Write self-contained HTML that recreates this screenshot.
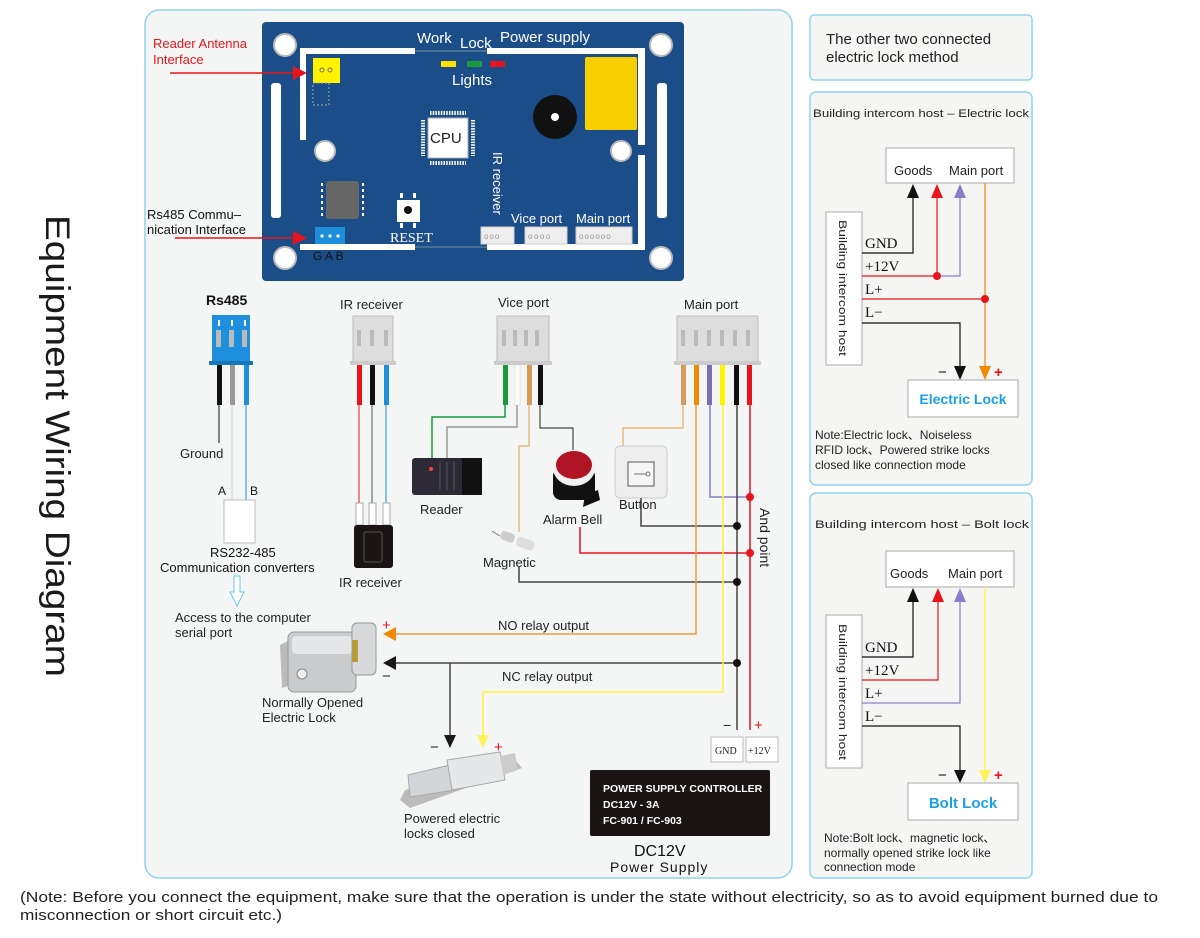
<!DOCTYPE html>
<html><head><meta charset="utf-8"><style>
html,body{margin:0;padding:0;background:#fff}
svg{display:block}
text{font-family:"Liberation Sans",sans-serif}
text.s{font-family:"Liberation Serif",serif}
</style></head><body>
<svg width="1200" height="938" viewBox="0 0 1200 938" xmlns="http://www.w3.org/2000/svg">
<rect width="1200" height="938" fill="#fff"/>
<!-- main panel -->
<rect x="145" y="10" width="647" height="868" rx="14" fill="#f4f6f6" stroke="#8fd3ee" stroke-width="1.5"/>
<rect x="810" y="15" width="222" height="65" rx="4" fill="#f5f6f4" stroke="#8fd3ee" stroke-width="1.5"/>
<rect x="810" y="92" width="222" height="393" rx="6" fill="#f5f6f4" stroke="#8fd3ee" stroke-width="1.5"/>
<rect x="810" y="493" width="222" height="385" rx="6" fill="#f5f6f4" stroke="#8fd3ee" stroke-width="1.5"/>

<text x="0" y="0" font-size="34" fill="#1a1a1a" transform="translate(46,215) rotate(90)" textLength="462" lengthAdjust="spacingAndGlyphs">Equipment Wiring Diagram</text>

<!-- board -->
<rect x="262" y="22" width="422" height="259" rx="4" fill="#1b4e89"/>
<g fill="#fff">
<rect x="300" y="48" width="115" height="6"/><rect x="487" y="48" width="158" height="6"/>
<rect x="300" y="48" width="6" height="92"/><rect x="638" y="48" width="7" height="97"/>
<rect x="638" y="155" width="7" height="95"/>
<rect x="300" y="244" width="115" height="6"/><rect x="487" y="244" width="158" height="6"/>
<rect x="271" y="83" width="10" height="135" rx="3"/><rect x="657" y="83" width="10" height="135" rx="3"/>
</g>
<line x1="415" y1="51" x2="487" y2="51" stroke="#8aa" stroke-width="0.7"/>
<line x1="415" y1="247" x2="487" y2="247" stroke="#8aa" stroke-width="0.7"/>
<g fill="#fff" stroke="#bbb" stroke-width="2">
<circle cx="285" cy="45" r="11"/><circle cx="661" cy="45" r="11"/><circle cx="285" cy="258" r="11"/><circle cx="661" cy="258" r="11"/>
<circle cx="325" cy="151" r="10"/><circle cx="621" cy="151" r="10"/>
</g>
<g fill="#fff" font-size="15">
<text x="417" y="43">Work</text><text x="460" y="48">Lock</text><text x="500" y="42">Power supply</text>
<text x="452" y="85">Lights</text>
</g>
<rect x="441" y="61" width="15" height="6" fill="#ffe400"/><rect x="467" y="61" width="15" height="6" fill="#1a9a3a"/><rect x="490" y="61" width="15" height="6" fill="#e8141b"/>
<rect x="313" y="58" width="27" height="25" fill="#fff200"/>
<circle cx="322" cy="70" r="2" fill="none" stroke="#777"/><circle cx="330" cy="70" r="2" fill="none" stroke="#777"/>
<rect x="313" y="83" width="16" height="22" fill="none" stroke="#aaa" stroke-dasharray="2,2"/>
<!-- CPU -->
<rect x="428" y="118" width="40" height="40" fill="#fff" stroke="#aaa"/>
<g stroke="#fff" stroke-width="4" stroke-dasharray="1.5,1.2">
<line x1="430" y1="113" x2="466" y2="113"/><line x1="430" y1="163" x2="466" y2="163"/>
<line x1="423" y1="120" x2="423" y2="156"/><line x1="473" y1="120" x2="473" y2="156"/>
</g>
<text x="430" y="143" font-size="15" fill="#222">CPU</text>
<circle cx="555" cy="117" r="22" fill="#111"/><circle cx="555" cy="117" r="4" fill="#fff"/>
<rect x="585" y="57" width="52" height="73" rx="2" fill="#f7cf00"/>
<rect x="326" y="181" width="33" height="38" rx="3" fill="#666"/>
<g stroke="#fff" stroke-width="2" stroke-dasharray="3,3"><line x1="322" y1="183" x2="322" y2="217"/><line x1="363" y1="183" x2="363" y2="217"/></g>
<rect x="397" y="200" width="23" height="22" fill="#fff"/><circle cx="408" cy="210" r="4" fill="#111"/>
<g fill="#fff"><rect x="400" y="193" width="3" height="5"/><rect x="413" y="193" width="3" height="5"/><rect x="400" y="223" width="3" height="5"/><rect x="413" y="223" width="3" height="5"/></g>
<text x="390" y="242" class="s" font-size="14" fill="#fff">RESET</text>
<text transform="translate(493,152) rotate(90)" font-size="13" fill="#fff">IR receiver</text>
<text x="511" y="223" font-size="13" fill="#fff">Vice port</text><text x="576" y="223" font-size="13" fill="#fff">Main port</text>
<g fill="#eee" stroke="#ccc"><rect x="481" y="227" width="33" height="17"/><rect x="525" y="227" width="42" height="17"/><rect x="576" y="227" width="56" height="17"/></g>
<text x="484" y="239" font-size="8" fill="#999" letter-spacing="1">ooo</text>
<text x="528" y="239" font-size="8" fill="#999" letter-spacing="1.5">oooo</text>
<text x="579" y="239" font-size="8" fill="#999" letter-spacing="1">oooooo</text>
<rect x="315" y="227" width="30" height="17" fill="#1e8fdc"/>
<g fill="#fff"><circle cx="322" cy="236" r="1.6"/><circle cx="330" cy="236" r="1.6"/><circle cx="338" cy="236" r="1.6"/></g>
<text x="313" y="260" font-size="12" fill="#111">G A B</text>

<text x="153" y="48" font-size="13" fill="#e8141b">Reader Antenna</text>
<text x="153" y="64" font-size="13" fill="#e8141b">Interface</text>
<line x1="170" y1="73" x2="295" y2="73" stroke="#e8141b" stroke-width="1.5"/><path d="M293,66 L307,73 L293,80z" fill="#e8141b"/>
<text x="147" y="219" font-size="13" fill="#111">Rs485 Commu–</text>
<text x="147" y="234" font-size="13" fill="#111">nication Interface</text>
<line x1="175" y1="238" x2="295" y2="238" stroke="#e8141b" stroke-width="1.5"/><path d="M293,231 L307,238 L293,245z" fill="#e8141b"/>

<!-- Rs485 -->
<text x="206" y="305" font-size="14" font-weight="bold" fill="#111">Rs485</text>
<rect x="212" y="315" width="38" height="47" fill="#1e8fdc"/><rect x="209" y="361" width="44" height="4" fill="#1577b8"/>
<g fill="#bbb"><rect x="216" y="330" width="5" height="17"/><rect x="229" y="330" width="5" height="17"/><rect x="242" y="330" width="5" height="17"/></g>
<g fill="#fff"><rect x="218" y="320" width="2" height="6"/><rect x="231" y="320" width="2" height="6"/><rect x="244" y="320" width="2" height="6"/></g>
<rect x="217" y="365" width="5" height="40" fill="#111"/><rect x="230" y="365" width="5" height="40" fill="#999"/><rect x="244" y="365" width="5" height="40" fill="#1e8fdc"/>
<line x1="219" y1="405" x2="219" y2="443" stroke="#111"/><line x1="232" y1="405" x2="232" y2="500" stroke="#ccc"/><line x1="246" y1="405" x2="246" y2="500" stroke="#1e8fdc"/>
<text x="180" y="458" font-size="13" fill="#222">Ground</text>
<text x="218" y="495" font-size="12" fill="#111">A</text><text x="250" y="495" font-size="12" fill="#111">B</text>
<rect x="224" y="500" width="31" height="43" fill="#fff" stroke="#bbb"/>
<text x="210" y="557" font-size="13" fill="#111">RS232-485</text>
<text x="160" y="572" font-size="13" fill="#111">Communication converters</text>
<path d="M234,576 L240,576 L240,592 L244,592 L237,606 L230,592 L234,592z" fill="#fff" stroke="#6cc8ee"/>
<text x="175" y="622" font-size="13" fill="#222">Access to the computer</text>
<text x="175" y="637" font-size="13" fill="#222">serial port</text>

<!-- IR -->
<text x="340" y="309" font-size="13" fill="#222">IR receiver</text>
<rect x="353" y="316" width="40" height="46" fill="#ddd" stroke="#bbb"/><rect x="350" y="361" width="46" height="4" fill="#ccc"/>
<g fill="#bbb"><rect x="357" y="330" width="4" height="16"/><rect x="370" y="330" width="4" height="16"/><rect x="384" y="330" width="4" height="16"/></g>
<rect x="357" y="365" width="5" height="40" fill="#e8141b"/><rect x="370" y="365" width="5" height="40" fill="#111"/><rect x="384" y="365" width="5" height="40" fill="#1e8fdc"/>
<line x1="359" y1="405" x2="359" y2="503" stroke="#e8141b"/><line x1="372" y1="405" x2="372" y2="503" stroke="#555"/><line x1="386" y1="405" x2="386" y2="503" stroke="#1e8fdc"/>
<g fill="#fff" stroke="#aaa"><rect x="356" y="503" width="7" height="22"/><rect x="369" y="503" width="7" height="22"/><rect x="383" y="503" width="7" height="22"/></g>
<rect x="354" y="525" width="39" height="43" rx="3" fill="#1a1414"/><rect x="364" y="532" width="18" height="30" rx="2" fill="none" stroke="#555"/>
<text x="339" y="587" font-size="13" fill="#222">IR receiver</text>

<!-- Vice port -->
<text x="498" y="307" font-size="13" fill="#222">Vice port</text>
<rect x="497" y="316" width="52" height="46" fill="#ddd" stroke="#bbb"/><rect x="494" y="361" width="58" height="4" fill="#ccc"/>
<g fill="#bbb"><rect x="502" y="330" width="4" height="16"/><rect x="513" y="330" width="4" height="16"/><rect x="524" y="330" width="4" height="16"/><rect x="535" y="330" width="4" height="16"/></g>
<rect x="503" y="365" width="5" height="40" fill="#1a9a3a"/><rect x="515" y="365" width="5" height="40" fill="#fff" stroke="#ccc" stroke-width="0.5"/><rect x="527" y="365" width="5" height="40" fill="#d39a5c"/><rect x="538" y="365" width="5" height="40" fill="#111"/>
<polyline points="505,405 505,417 432,417 432,458" fill="none" stroke="#1a9a3a" stroke-width="1.5"/>
<polyline points="517,405 517,427 447,427 447,458" fill="none" stroke="#999" stroke-width="1.5"/>
<polyline points="529,405 529,446 519,446 519,532" fill="none" stroke="#e8a865" stroke-width="1.2"/>
<polyline points="540,405 540,428 573,428 573,450" fill="none" stroke="#444" stroke-width="1.2"/>
<rect x="412" y="458" width="70" height="37" rx="3" fill="#2d2a36"/><rect x="462" y="458" width="20" height="37" fill="#111"/>
<circle cx="431" cy="469" r="2" fill="#e44"/>
<g stroke="#555"><line x1="440" y1="462" x2="440" y2="490"/><line x1="447" y1="462" x2="447" y2="490"/><line x1="454" y1="462" x2="454" y2="490"/></g>
<text x="420" y="514" font-size="13" fill="#222">Reader</text>
<rect x="553" y="468" width="42" height="32" rx="8" fill="#111"/>
<ellipse cx="574" cy="468" rx="21" ry="18" fill="#f0f0f0"/><ellipse cx="574" cy="465" rx="18" ry="14" fill="#b11424"/>
<path d="M585,495 L598,490 L600,500 L583,507z" fill="#111"/>
<text x="543" y="524" font-size="13" fill="#222">Alarm Bell</text>
<g transform="rotate(20 515 540)"><rect x="500" y="535" width="14" height="9" rx="3" fill="#ccc"/><rect x="517" y="535" width="18" height="10" rx="3" fill="#ddd"/></g>
<line x1="492" y1="531" x2="500" y2="536" stroke="#777"/>
<text x="483" y="567" font-size="13" fill="#222">Magnetic</text>

<!-- Button -->
<rect x="615" y="446" width="52" height="52" rx="5" fill="#eee" stroke="#ccc"/>
<rect x="628" y="462" width="26" height="24" fill="#f6f6f6" stroke="#555"/>
<line x1="634" y1="474" x2="646" y2="474" stroke="#777"/><circle cx="648" cy="474" r="2" fill="none" stroke="#777"/>
<text x="619" y="509" font-size="13" fill="#222">Button</text>

<!-- Main port -->
<text x="684" y="309" font-size="13" fill="#222">Main port</text>
<rect x="677" y="316" width="81" height="46" fill="#ddd" stroke="#bbb"/><rect x="674" y="361" width="87" height="4" fill="#ccc"/>
<g fill="#bbb"><rect x="681" y="330" width="4" height="16"/><rect x="694" y="330" width="4" height="16"/><rect x="707" y="330" width="4" height="16"/><rect x="720" y="330" width="4" height="16"/><rect x="733" y="330" width="4" height="16"/><rect x="746" y="330" width="4" height="16"/></g>
<rect x="681" y="365" width="5" height="40" fill="#d39a5c"/><rect x="694" y="365" width="5" height="40" fill="#f28a00"/><rect x="707" y="365" width="5" height="40" fill="#7b6cb8"/><rect x="720" y="365" width="5" height="40" fill="#fff200"/><rect x="734" y="365" width="5" height="40" fill="#111"/><rect x="747" y="365" width="5" height="40" fill="#e8141b"/>
<polyline points="683,405 683,428 623,428 623,446" fill="none" stroke="#e8a865" stroke-width="1.2"/>
<polyline points="710,405 710,497 750,497" fill="none" stroke="#8a7cc8" stroke-width="1.5"/>
<polyline points="641,498 641,526 737,526" fill="none" stroke="#444" stroke-width="1.5"/>
<polyline points="580,527 580,553 750,553" fill="none" stroke="#e8141b" stroke-width="1.5"/>
<polyline points="519,567 519,582 737,582" fill="none" stroke="#444" stroke-width="1.5"/>
<line x1="750" y1="405" x2="750" y2="730" stroke="#e8141b" stroke-width="1.5"/>
<line x1="737" y1="405" x2="737" y2="730" stroke="#444" stroke-width="1.5"/>
<polyline points="696,405 696,634 385,634" fill="none" stroke="#f39a3a" stroke-width="1.5"/>
<path d="M383,634 L396,627 L396,641z" fill="#f28a00"/>
<polyline points="737,663 385,663" fill="none" stroke="#444" stroke-width="1.5"/>
<path d="M383,663 L396,656 L396,670z" fill="#1a1a1a"/>
<line x1="450" y1="663" x2="450" y2="738" stroke="#444" stroke-width="1.5"/>
<path d="M444,735 L456,735 L450,748z" fill="#1a1a1a"/>
<polyline points="723,405 723,692 483,692 483,738" fill="none" stroke="#ffef3a" stroke-width="1.5"/>
<path d="M477,735 L489,735 L483,748z" fill="#fff25a"/>
<g fill="#e8141b"><circle cx="750" cy="497" r="4"/><circle cx="750" cy="553" r="4"/></g>
<g fill="#111"><circle cx="737" cy="526" r="4"/><circle cx="737" cy="582" r="4"/><circle cx="737" cy="663" r="4"/></g>
<text transform="translate(760,508) rotate(90)" font-size="14" fill="#222">And point</text>
<text x="498" y="630" font-size="13" fill="#222">NO relay output</text>
<text x="502" y="681" font-size="13" fill="#222">NC relay output</text>
<text x="382" y="630" font-size="15" fill="#e8141b">+</text><text x="382" y="681" font-size="15" fill="#222">−</text>
<text x="430" y="752" font-size="15" fill="#222">−</text><text x="494" y="752" font-size="15" fill="#e8141b">+</text>
<text x="723" y="730" font-size="14" fill="#222">−</text><text x="754" y="730" font-size="15" fill="#e8141b">+</text>
<rect x="711" y="737" width="32" height="25" fill="#fff" stroke="#bbb"/><rect x="746" y="737" width="32" height="25" fill="#fff" stroke="#bbb"/>
<text x="715" y="754" font-size="10" class="s" fill="#222">GND</text>
<text x="748" y="754" font-size="10" class="s" fill="#222">+12V</text>
<rect x="590" y="770" width="180" height="66" rx="2" fill="#1a1414"/>
<g fill="#fff" font-size="10.5" font-weight="bold"><text x="603" y="792">POWER SUPPLY CONTROLLER</text><text x="603" y="808">DC12V - 3A</text><text x="603" y="824">FC-901 / FC-903</text></g>
<text x="634" y="856" font-size="16" fill="#111">DC12V</text>
<text x="610" y="872" font-size="14" fill="#111" letter-spacing="1">Power Supply</text>

<!-- electric lock image -->
<path d="M280,645 L290,640 L290,685 L282,688z" fill="#bbb"/>
<rect x="288" y="632" width="68" height="60" rx="6" fill="#c9cbcd" stroke="#999"/>
<rect x="292" y="636" width="60" height="18" rx="4" fill="#e4e6e8"/>
<circle cx="302" cy="674" r="5" fill="#eee" stroke="#888"/>
<rect x="352" y="623" width="24" height="52" rx="5" fill="#d7d9db" stroke="#999"/>
<rect x="352" y="640" width="6" height="22" fill="#b89a3a"/>
<text x="262" y="707" font-size="13" fill="#222">Normally Opened</text>
<text x="262" y="722" font-size="13" fill="#222">Electric Lock</text>
<!-- bolt lock -->
<path d="M400,800 L405,790 L515,760 L522,768 L410,808z" fill="#bbb"/>
<path d="M408,775 L450,765 L455,790 L410,797z" fill="#d3d5d8" stroke="#aaa"/>
<path d="M447,760 L500,752 L505,780 L452,790z" fill="#e6e7e9" stroke="#aaa"/>
<path d="M500,756 L515,753 L518,770 L503,775z" fill="#ccc"/>
<text x="404" y="823" font-size="13" fill="#222">Powered electric</text>
<text x="404" y="838" font-size="13" fill="#222">locks closed</text>

<!-- bottom note -->
<text x="20" y="902" font-size="15" fill="#222" textLength="1138" lengthAdjust="spacingAndGlyphs">(Note: Before you connect the equipment, make sure that the operation is under the state without electricity, so as to avoid equipment burned due to</text>
<text x="20" y="920" font-size="15" fill="#222" textLength="262" lengthAdjust="spacingAndGlyphs">misconnection or short circuit etc.)</text>

<!-- right top -->
<text x="826" y="44" font-size="15" fill="#222">The other two connected</text>
<text x="826" y="62" font-size="15" fill="#222">electric lock method</text>

<!-- panel 2 -->
<text x="813" y="117" font-size="11" fill="#222" textLength="216" lengthAdjust="spacingAndGlyphs">Building intercom host – Electric lock</text>
<rect x="886" y="148" width="128" height="35" fill="#fff" stroke="#aaa"/>
<text x="894" y="175" font-size="13" fill="#222">Goods</text><text x="949" y="175" font-size="13" fill="#222">Main port</text>
<rect x="826" y="212" width="36" height="153" fill="#fff" stroke="#aaa"/>
<text transform="translate(839,220) rotate(90)" font-size="11" fill="#222" textLength="136" lengthAdjust="spacingAndGlyphs">Building intercom host</text>
<g font-size="15" fill="#111"><text class="s" x="865" y="248">GND</text><text class="s" x="865" y="271">+12V</text><text class="s" x="865" y="294">L+</text><text class="s" x="865" y="317">L−</text></g>
<polyline points="862,253 913,253 913,195" fill="none" stroke="#111" stroke-width="1.2"/><path d="M907,198 L913,184 L919,198z" fill="#111"/>
<polyline points="862,276 937,276 937,195" fill="none" stroke="#e8141b" stroke-width="1.2"/><path d="M931,198 L937,184 L943,198z" fill="#e8141b"/>
<polyline points="937,276 960,276 960,195" fill="none" stroke="#8a7cc8" stroke-width="1.2"/><path d="M954,198 L960,184 L966,198z" fill="#8a7cc8"/>
<line x1="862" y1="299" x2="985" y2="299" stroke="#e8141b" stroke-width="1.2"/>
<line x1="985" y1="183" x2="985" y2="368" stroke="#f39a3a" stroke-width="1.5"/><path d="M979,366 L991,366 L985,380z" fill="#f28a00"/>
<polyline points="862,323 960,323 960,368" fill="none" stroke="#111" stroke-width="1.2"/><path d="M954,366 L966,366 L960,380z" fill="#111"/>
<circle cx="937" cy="276" r="4" fill="#e8141b"/><circle cx="985" cy="299" r="4" fill="#e8141b"/>
<text x="938" y="377" font-size="15" fill="#111">−</text><text x="994" y="377" font-size="15" fill="#e8141b" font-weight="bold">+</text>
<rect x="908" y="380" width="110" height="37" fill="#fff" stroke="#aaa"/>
<text x="963" y="404" font-size="14" font-weight="bold" fill="#1aa0e6" text-anchor="middle">Electric Lock</text>
<text x="815" y="439" font-size="12" fill="#222">Note:Electric lock、Noiseless</text>
<text x="815" y="454" font-size="12" fill="#222">RFID lock、Powered strike locks</text>
<text x="815" y="469" font-size="12" fill="#222">closed like connection mode</text>

<!-- panel 3 -->
<text x="815" y="528" font-size="11" fill="#222" textLength="214" lengthAdjust="spacingAndGlyphs">Building intercom host – Bolt lock</text>
<rect x="886" y="551" width="128" height="36" fill="#fff" stroke="#aaa"/>
<text x="890" y="578" font-size="13" fill="#222">Goods</text><text x="948" y="578" font-size="13" fill="#222">Main port</text>
<rect x="826" y="615" width="36" height="153" fill="#fff" stroke="#aaa"/>
<text transform="translate(839,624) rotate(90)" font-size="11" fill="#222" textLength="136" lengthAdjust="spacingAndGlyphs">Building intercom host</text>
<g font-size="15" fill="#111"><text class="s" x="865" y="652">GND</text><text class="s" x="865" y="675">+12V</text><text class="s" x="865" y="698">L+</text><text class="s" x="865" y="721">L−</text></g>
<polyline points="862,657 913,657 913,600" fill="none" stroke="#111" stroke-width="1.2"/><path d="M907,602 L913,588 L919,602z" fill="#111"/>
<polyline points="862,680 938,680 938,600" fill="none" stroke="#e8141b" stroke-width="1.2"/><path d="M932,602 L938,588 L944,602z" fill="#e8141b"/>
<polyline points="862,703 960,703 960,600" fill="none" stroke="#8a7cc8" stroke-width="1.2"/><path d="M954,602 L960,588 L966,602z" fill="#8a7cc8"/>
<polyline points="862,726 960,726 960,772" fill="none" stroke="#111" stroke-width="1.2"/><path d="M954,770 L966,770 L960,783z" fill="#111"/>
<line x1="985" y1="587" x2="985" y2="772" stroke="#fff25a" stroke-width="1.5"/><path d="M979,770 L991,770 L985,783z" fill="#fff25a"/>
<text x="938" y="780" font-size="15" fill="#111">−</text><text x="994" y="780" font-size="15" fill="#e8141b" font-weight="bold">+</text>
<rect x="908" y="783" width="110" height="37" fill="#fff" stroke="#aaa"/>
<text x="963" y="808" font-size="15" font-weight="bold" fill="#1aa0e6" text-anchor="middle">Bolt Lock</text>
<text x="824" y="842" font-size="12" fill="#222">Note:Bolt lock、magnetic lock、</text>
<text x="824" y="857" font-size="12" fill="#222">normally opened strike lock like</text>
<text x="824" y="871" font-size="12" fill="#222">connection mode</text>
</svg>
</body></html>
